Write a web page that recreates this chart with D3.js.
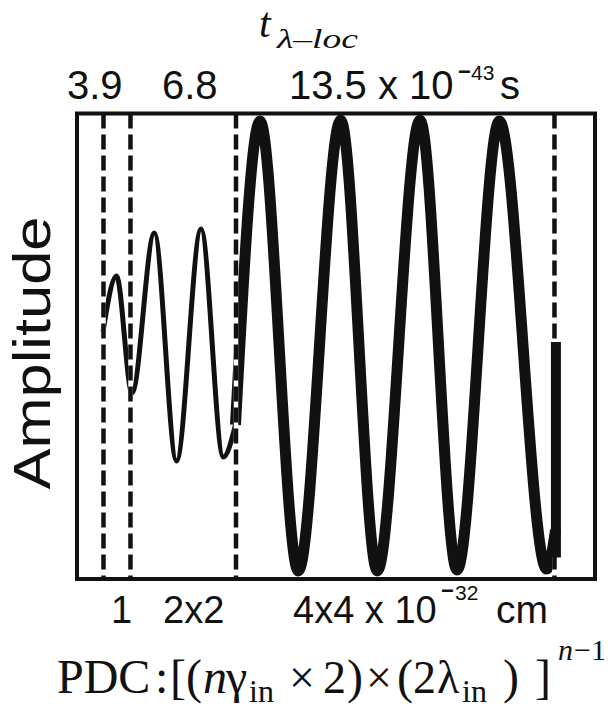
<!DOCTYPE html>
<html>
<head>
<meta charset="utf-8">
<script src="https://cdn.jsdelivr.net/npm/d3@7"></script>
<style>
  html, body { margin: 0; padding: 0; background: #fff; }
  svg { display: block; }
</style>
</head>
<body>
<div id="chart"></div>
<script>
// ---- data (arbitrary horizontal units 0..100, amplitude -1..1) ----
const thinX  = [4.84, 7.46, 10.47, 14.79, 19.09, 23.84, 28.16, 30.52];
const thinY  = [0.061, 0.304, -0.204, 0.491, -0.500, 0.509, -0.483, -0.343];
const thickX = [30.52, 35.27, 42.69, 50.91, 58.00, 66.28, 73.45, 81.65, 90.83, 92.55];
const thickY = [-0.343, 0.978, -0.978, 0.982, -0.978, 0.982, -0.974, 0.978, -0.970, -0.80];
const tailX  = [92.62, 92.62];
const tailY  = [-0.92, 0.017];
const dividerX = [4.94, 10.17, 30.62, 92.34];
const topLabels = ["3.9", "6.8", "13.5 x 10"];
const topExp = "43";
const topUnit = "s";
const bottomLabels = ["1", "2x2", "4x4 x 10"];
const bottomExp = "32";
const bottomUnit = "cm";

const W = 608, H = 708;
const svg = d3.select("#chart").append("svg").attr("width", W).attr("height", H);

const frame = { x0: 77, x1: 595, y0: 113.5, y1: 579 };
const x = d3.scaleLinear().domain([0, 100]).range([78, 594]);
const y = d3.scaleLinear().domain([-1, 1]).range([576, 116]);

const thin = thinX.map((v, i) => ({ x: v, y: thinY[i] }));
const thick = thickX.map((v, i) => ({ x: v, y: thickY[i] }));
const tail = tailX.map((v, i) => ({ x: v, y: tailY[i] }));

const line = d3.line().x(d => x(d.x)).y(d => y(d.y)).curve(d3.curveMonotoneX);
const straight = d3.line().x(d => x(d.x)).y(d => y(d.y));

svg.append("path").datum(thin).attr("d", line)
  .attr("fill", "none").attr("stroke", "#111").attr("stroke-width", 5);
svg.append("path").datum(thick).attr("d", line)
  .attr("fill", "none").attr("stroke", "#111").attr("stroke-width", 11);

// dashed dividers (white under-line, then black dashes)
const dv = svg.append("g");
dv.selectAll("line.w").data(dividerX).join("line").attr("class", "w")
  .attr("x1", d => x(d)).attr("x2", d => x(d))
  .attr("y1", frame.y0).attr("y2", frame.y1)
  .attr("stroke", "#fff").attr("stroke-width", 4.5);
dv.selectAll("line.b").data(dividerX).join("line").attr("class", "b")
  .attr("x1", d => x(d)).attr("x2", d => x(d))
  .attr("y1", frame.y0).attr("y2", frame.y1)
  .attr("stroke", "#111").attr("stroke-width", 4.5)
  .attr("stroke-dasharray", "15 6");

// vertical end of the thick wave
svg.append("path").datum(tail).attr("d", straight)
  .attr("fill", "none").attr("stroke", "#111").attr("stroke-width", 10);

// frame
svg.append("rect")
  .attr("x", frame.x0).attr("y", frame.y0)
  .attr("width", frame.x1 - frame.x0).attr("height", frame.y1 - frame.y0)
  .attr("fill", "none").attr("stroke", "#111").attr("stroke-width", 4);

const sans = "'Liberation Sans', Arial, Helvetica, sans-serif";
const serif = "'Liberation Serif', 'Times New Roman', serif";

// title t_{λ-loc}
svg.append("text").attr("x", 259).attr("y", 37)
  .attr("font-family", serif).attr("font-style", "italic").attr("font-size", 42)
  .attr("fill", "#111").text("t");
svg.append("text").attr("x", 277).attr("y", 48)
  .attr("font-family", serif).attr("font-style", "italic").attr("font-size", 28)
  .attr("textLength", 81).attr("lengthAdjust", "spacingAndGlyphs")
  .attr("fill", "#111").text("λ–loc");

// top labels
const topX = [67, 162, 289];
const tg = svg.append("g").attr("font-family", sans).attr("fill", "#111");
tg.selectAll("text.l").data(topLabels).join("text").attr("class", "l")
  .attr("x", (d, i) => topX[i]).attr("y", 99).attr("font-size", 40).text(d => d);
tg.append("text").attr("x", 458).attr("y", 79).attr("font-size", 22)
  .attr("font-weight", "bold").text("−");
tg.append("text").attr("x", 471).attr("y", 80).attr("font-size", 21).text(topExp);
tg.append("text").attr("x", 500).attr("y", 99).attr("font-size", 40).text(topUnit);

// bottom labels
const botX = [111, 163, 293];
const bg = svg.append("g").attr("font-family", sans).attr("fill", "#111");
bg.selectAll("text.l").data(bottomLabels).join("text").attr("class", "l")
  .attr("x", (d, i) => botX[i]).attr("y", 623).attr("font-size", 38).text(d => d);
bg.append("text").attr("x", 441).attr("y", 598).attr("font-size", 22)
  .attr("font-weight", "bold").text("−");
bg.append("text").attr("x", 455).attr("y", 600).attr("font-size", 21).text(bottomExp);
bg.append("text").attr("x", 496).attr("y", 623).attr("font-size", 39).text(bottomUnit);

// y label
svg.append("text")
  .attr("transform", "translate(50,353) rotate(-90)")
  .attr("text-anchor", "middle")
  .attr("font-family", sans).attr("font-size", 52)
  .attr("textLength", 273).attr("lengthAdjust", "spacingAndGlyphs")
  .attr("fill", "#111").text("Amplitude");

// formula PDC:[(nγ_in × 2)×(2λ_in)]^{n−1}
const fg = svg.append("g").attr("font-family", serif).attr("fill", "#111");
const parts = [
  { t: "PDC", x: 57, y: 693, s: 48 },
  { t: ":", x: 155, y: 693, s: 48 },
  { t: "[", x: 170, y: 693, s: 48 },
  { t: "(", x: 186, y: 693, s: 48 },
  { t: "n", x: 203, y: 693, s: 48, i: true },
  { t: "γ", x: 226, y: 693, s: 48 },
  { t: "in", x: 249, y: 702, s: 32 },
  { t: "×", x: 289, y: 693, s: 46 },
  { t: "2", x: 323, y: 693, s: 46 },
  { t: ")", x: 347, y: 693, s: 48 },
  { t: "×", x: 366, y: 693, s: 46 },
  { t: "(", x: 397, y: 693, s: 48 },
  { t: "2", x: 413, y: 693, s: 46 },
  { t: "λ", x: 437, y: 693, s: 46 },
  { t: "in", x: 462, y: 702, s: 32 },
  { t: ")", x: 503, y: 693, s: 48 },
  { t: "]", x: 535, y: 693, s: 48 },
  { t: "n", x: 558, y: 660, s: 30, i: true },
  { t: "−1", x: 574, y: 660, s: 30 }
];
fg.selectAll("text").data(parts).join("text")
  .attr("x", d => d.x).attr("y", d => d.y).attr("font-size", d => d.s)
  .attr("font-style", d => d.i ? "italic" : "normal")
  .text(d => d.t);
</script>
</body>
</html>
